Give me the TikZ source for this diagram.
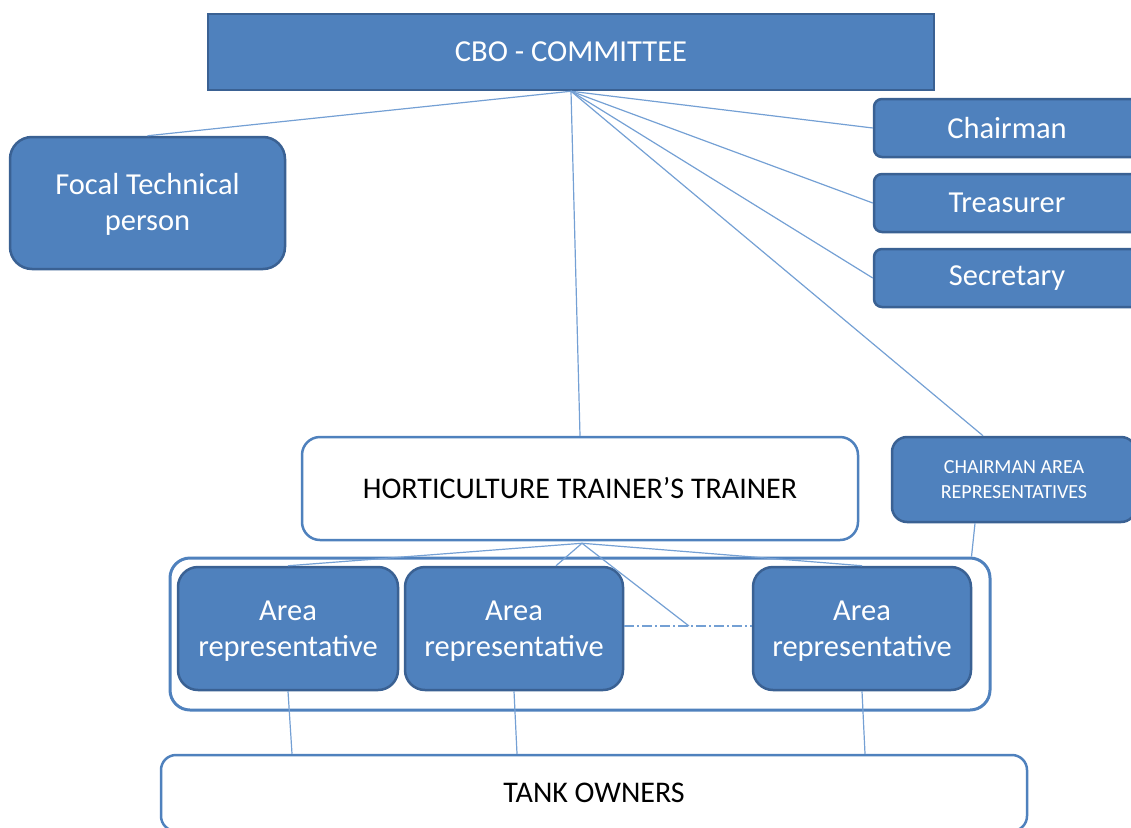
\documentclass[tikz,border=0pt]{standalone}
\usepackage{fontspec}
\setmainfont{Carlito}
\usetikzlibrary{calc}
\definecolor{boxfill}{HTML}{4F81BD}
\definecolor{boxedge}{HTML}{3A6193}
\definecolor{linkcol}{HTML}{74A0D4}
\tikzset{
  bluebox/.style={draw=boxedge, fill=boxfill, line width=2.5pt, text=white, inner sep=0pt, align=center, font=\fontsize{30.5}{36}\selectfont},
  whitebox/.style={draw=boxfill, fill=white, line width=2.5pt, text=black, inner sep=0pt, align=center, font=\fontsize{30}{36}\selectfont},
  link/.style={draw=linkcol, line width=1.2pt},
}
\begin{document}
\begin{tikzpicture}[x=1pt,y=-1pt]
\useasboundingbox (0,0) rectangle (1131,827);
% top committee
\node[bluebox, minimum width=726, minimum height=76] (cbo) at (571,52) {CBO - COMMITTEE};
\node[bluebox, rounded corners=22, minimum width=275, minimum height=132] (focal) at (147.5,203) {\rule{0pt}{24pt}Focal Technical\\person};
\node[bluebox, rounded corners=8, minimum width=266, minimum height=58] (chair) at (1007,128) {Chairman};
\node[bluebox, rounded corners=8, minimum width=266, minimum height=58] (treas) at (1007,203) {Treasurer};
\node[bluebox, rounded corners=8, minimum width=266, minimum height=58] (secr) at (1007,278) {Secretary};
\node[bluebox, rounded corners=15, minimum width=244, minimum height=85, font=\fontsize{20}{25}\selectfont] (car) at (1014,479.5) {CHAIRMAN AREA\\REPRESENTATIVES};
\node[whitebox, rounded corners=18, minimum width=556, minimum height=103] (hort) at (580,488.5) {HORTICULTURE TRAINER’S TRAINER};
% group of area representatives
\node[draw=boxfill, fill=white, line width=3pt, rounded corners=20, minimum width=820, minimum height=152, inner sep=0pt] (group) at (580,634) {};
\node[bluebox, rounded corners=20, minimum width=220, minimum height=123] (rep1) at (288,628.5) {\rule{0pt}{25pt}Area\\representative};
\node[bluebox, rounded corners=20, minimum width=218, minimum height=123] (rep2) at (514,628.5) {\rule{0pt}{25pt}Area\\representative};
\node[bluebox, rounded corners=20, minimum width=218, minimum height=123] (rep3) at (862,628.5) {\rule{0pt}{25pt}Area\\representative};
\node[whitebox, rounded corners=15, minimum width=866, minimum height=76] (tank) at (594,793) {TANK OWNERS};
% connectors from the committee
\draw[link] (cbo.south) -- (focal.north);
\draw[link] (cbo.south) -- (chair.west);
\draw[link] (cbo.south) -- (treas.west);
\draw[link] (cbo.south) -- (secr.west);
\draw[link] (cbo.south) -- ($(car.north)+(-31,0)$);
\draw[link] (cbo.south) -- (hort.north);
% connectors from horticulture trainer
\coordinate (mid) at (689,626);
\draw[link] ($(hort.south)+(2,2)$) -- (rep1.north);
\draw[link] ($(hort.south)+(2,2)$) -- ($(rep2.north)+(42,0)$);
\draw[link] ($(hort.south)+(2,2)$) -- (rep3.north);
\draw[link] ($(hort.south)+(2,2)$) -- (mid);
\draw[link, dash pattern=on 10pt off 3pt on 2pt off 3pt] (rep2.east |- mid) -- (rep3.west |- mid);
% chairman area representatives to group
\draw[link] ($(car.south)+(-39,0)$) -- ($(group.north east)+(-20,0)$);
% area representatives to tank owners
\draw[link] (rep1.south) -- ($(rep1.south |- tank.north)+(4,0)$);
\draw[link] (rep2.south) -- ($(rep2.south |- tank.north)+(3,0)$);
\draw[link] (rep3.south) -- ($(rep3.south |- tank.north)+(3,0)$);
\end{tikzpicture}
\end{document}
